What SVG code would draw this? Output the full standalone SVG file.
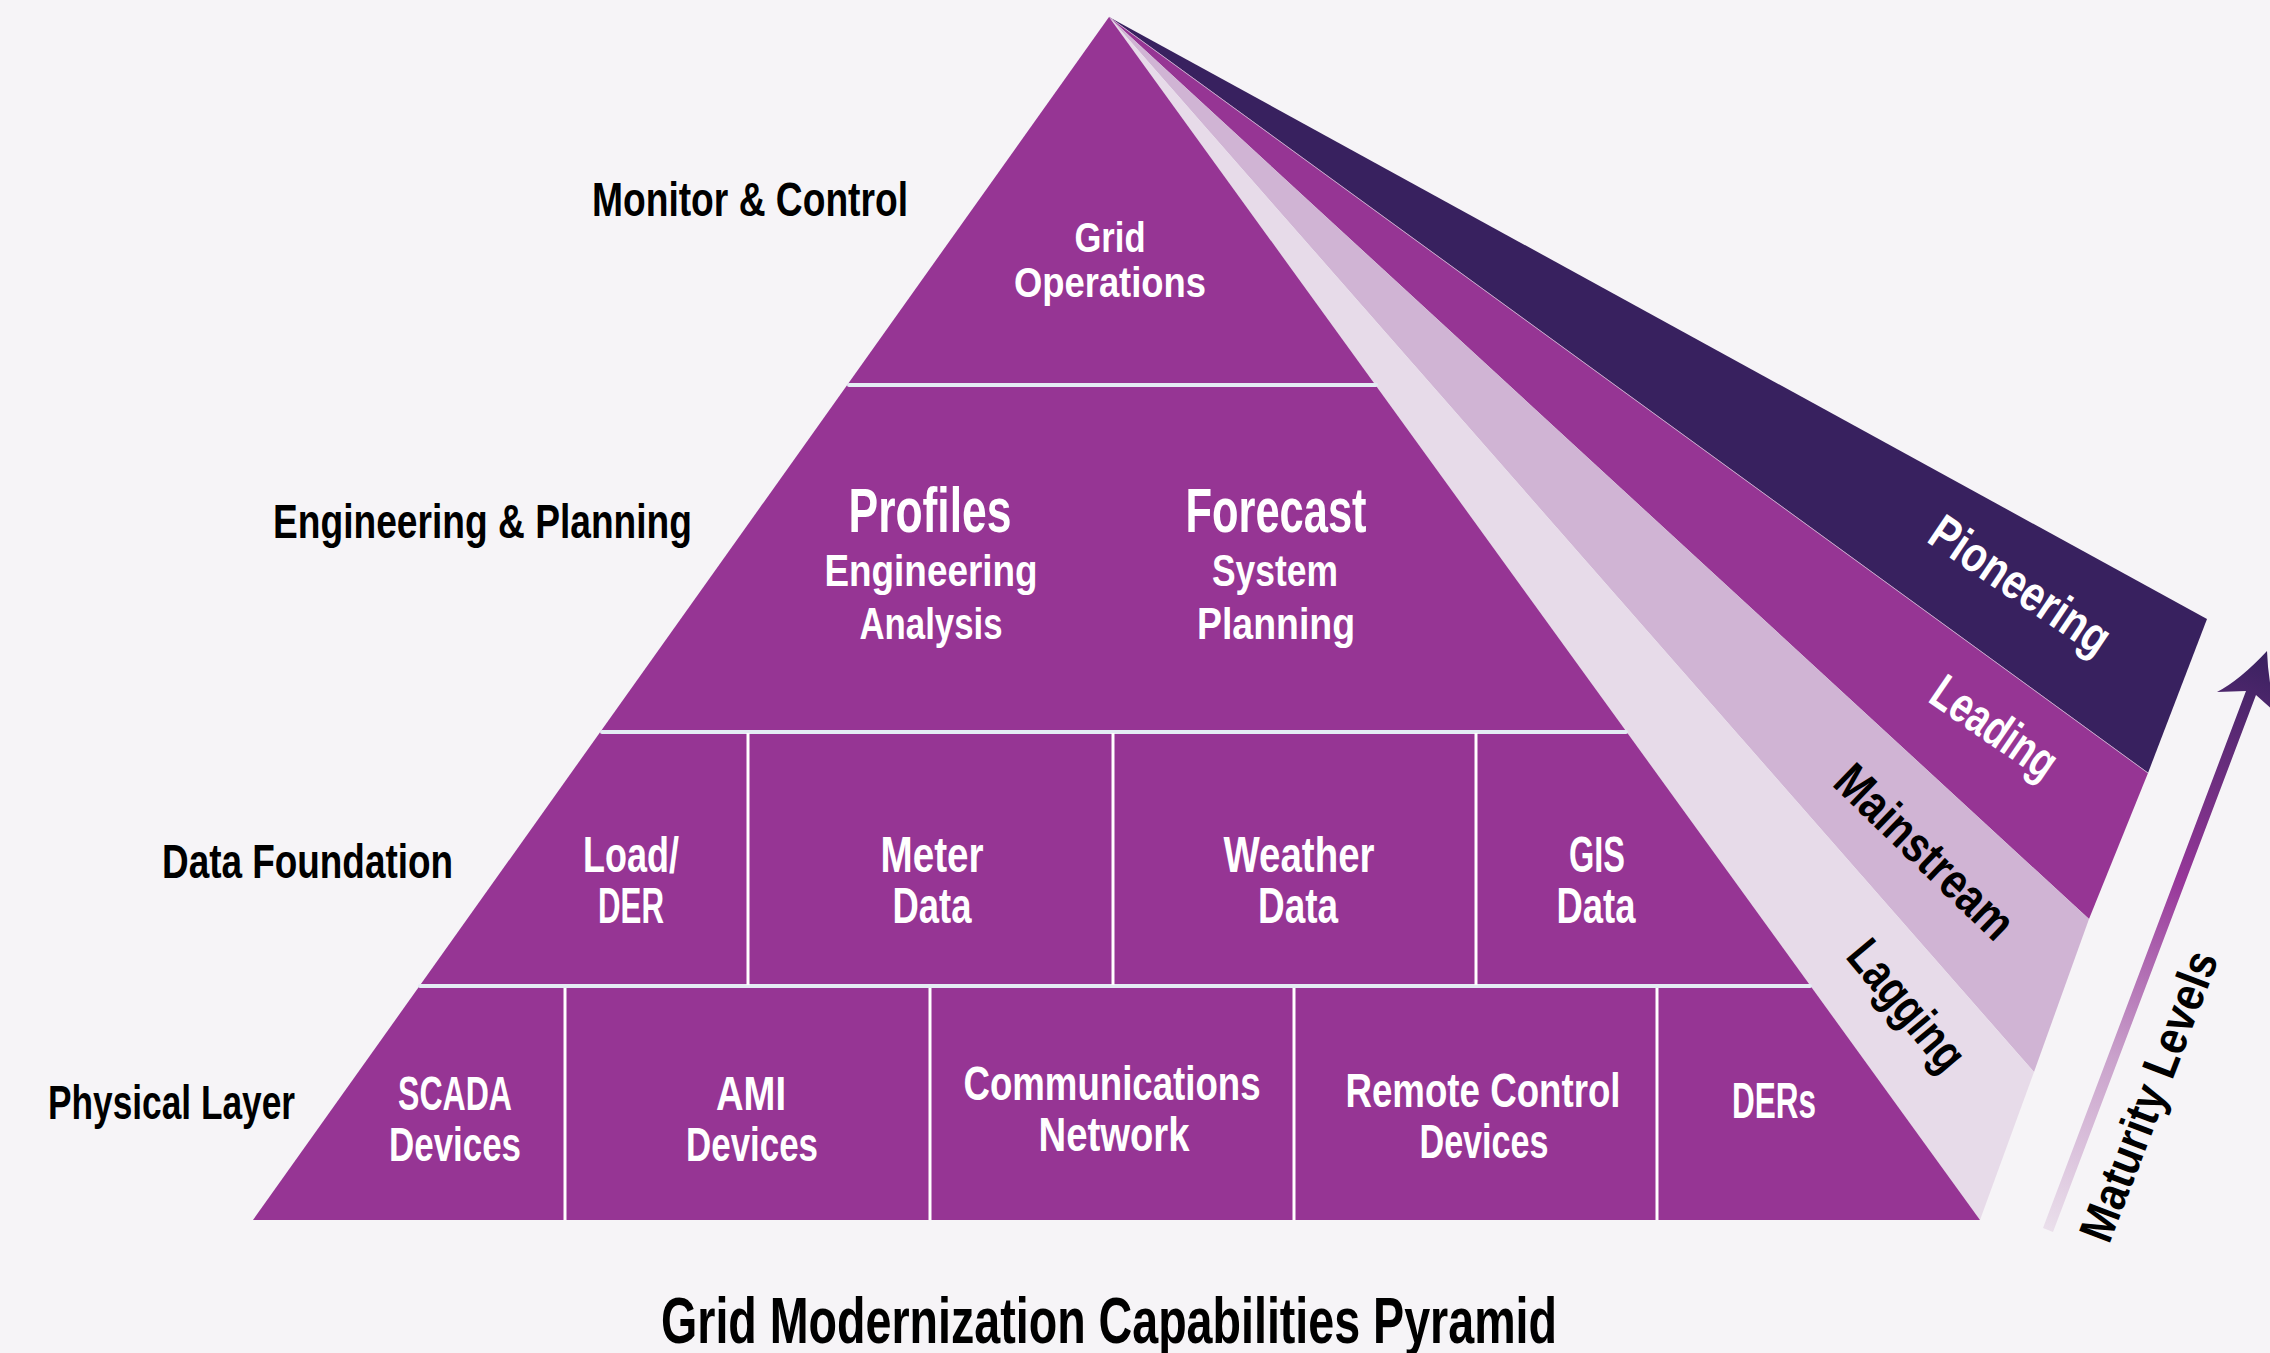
<svg xmlns="http://www.w3.org/2000/svg" width="2270" height="1353" viewBox="0 0 2270 1353">
<defs>
<style>
.t{font-family:"Liberation Sans Narrow","Liberation Sans",Arial,sans-serif;font-weight:bold;}
.w{fill:#ffffff;text-anchor:middle;}
.k{fill:#000000;}
.km{fill:#000000;text-anchor:middle;}
.hl{stroke:#e4ecf4;stroke-width:4;stroke-linecap:round;}
.vl{stroke:#ffffff;stroke-width:3;}
</style>
<linearGradient id="arrowGrad" gradientUnits="userSpaceOnUse" x1="2048" y1="1230" x2="2267" y2="651">
<stop offset="0" stop-color="#eadfeb"/>
<stop offset="0.3" stop-color="#c9a1cb"/>
<stop offset="0.6" stop-color="#98389a"/>
<stop offset="1" stop-color="#38215f"/>
</linearGradient>
</defs>
<rect x="0" y="0" width="2270" height="1353" fill="#f6f4f7"/>

<g id="bands">
<polygon id="band-pioneering" points="1109,17 2207,619 2148,773" fill="#38215f"/>
<polygon id="band-leading" points="1109,17 2148,773 2089,919" fill="#963594"/>
<polygon id="band-mainstream" points="1109,17 2089,919 2034,1072" fill="#d0b4d4"/>
<polygon id="band-lagging" points="1109,17 2034,1072 1980,1220" fill="#e7dbe9"/>
<line x1="1109" y1="17" x2="2148" y2="773" stroke="#c8a8cc" stroke-width="1"/>
</g>

<g id="pyramid">
<polygon points="1109,17 1980,1220 253,1220" fill="#963594"/>
<line class="hl" x1="849" y1="385" x2="1376" y2="385"/>
<line class="hl" x1="602" y1="732" x2="1626" y2="732"/>
<line class="hl" x1="420" y1="986" x2="1810" y2="986"/>
<line class="vl" x1="748" y1="733" x2="748" y2="985"/>
<line class="vl" x1="1113" y1="733" x2="1113" y2="985"/>
<line class="vl" x1="1476" y1="733" x2="1476" y2="985"/>
<line class="vl" x1="565" y1="988" x2="565" y2="1220"/>
<line class="vl" x1="930" y1="988" x2="930" y2="1220"/>
<line class="vl" x1="1294" y1="988" x2="1294" y2="1220"/>
<line class="vl" x1="1657" y1="988" x2="1657" y2="1220"/>
</g>

<g id="node-grid-operations">
<text class="t w" x="1110" y="252" font-size="42" textLength="71" lengthAdjust="spacingAndGlyphs">Grid</text>
<text class="t w" x="1110" y="297" font-size="42" textLength="192" lengthAdjust="spacingAndGlyphs">Operations</text>
</g>

<g id="node-profiles">
<text class="t w" x="930" y="532" font-size="63" textLength="163" lengthAdjust="spacingAndGlyphs">Profiles</text>
<text class="t w" x="931" y="586" font-size="44" textLength="213" lengthAdjust="spacingAndGlyphs">Engineering</text>
<text class="t w" x="931" y="639" font-size="44" textLength="143" lengthAdjust="spacingAndGlyphs">Analysis</text>
</g>

<g id="node-forecast">
<text class="t w" x="1276" y="532" font-size="63" textLength="181" lengthAdjust="spacingAndGlyphs">Forecast</text>
<text class="t w" x="1275" y="586" font-size="44" textLength="126" lengthAdjust="spacingAndGlyphs">System</text>
<text class="t w" x="1276" y="639" font-size="44" textLength="158" lengthAdjust="spacingAndGlyphs">Planning</text>
</g>

<g id="node-load-der">
<text class="t w" x="631" y="872" font-size="50" textLength="96" lengthAdjust="spacingAndGlyphs">Load/</text>
<text class="t w" x="631" y="923" font-size="50" textLength="66" lengthAdjust="spacingAndGlyphs">DER</text>
</g>
<g id="node-meter-data">
<text class="t w" x="932" y="872" font-size="50" textLength="103" lengthAdjust="spacingAndGlyphs">Meter</text>
<text class="t w" x="932" y="923" font-size="50" textLength="79" lengthAdjust="spacingAndGlyphs">Data</text>
</g>
<g id="node-weather-data">
<text class="t w" x="1299" y="872" font-size="50" textLength="151" lengthAdjust="spacingAndGlyphs">Weather</text>
<text class="t w" x="1298" y="923" font-size="50" textLength="80" lengthAdjust="spacingAndGlyphs">Data</text>
</g>
<g id="node-gis-data">
<text class="t w" x="1597" y="872" font-size="50" textLength="56" lengthAdjust="spacingAndGlyphs">GIS</text>
<text class="t w" x="1596" y="923" font-size="50" textLength="79" lengthAdjust="spacingAndGlyphs">Data</text>
</g>

<g id="node-scada">
<text class="t w" x="455" y="1110" font-size="49" textLength="114" lengthAdjust="spacingAndGlyphs">SCADA</text>
<text class="t w" x="455" y="1161" font-size="49" textLength="132" lengthAdjust="spacingAndGlyphs">Devices</text>
</g>
<g id="node-ami">
<text class="t w" x="751" y="1110" font-size="49" textLength="70" lengthAdjust="spacingAndGlyphs">AMI</text>
<text class="t w" x="752" y="1161" font-size="49" textLength="132" lengthAdjust="spacingAndGlyphs">Devices</text>
</g>
<g id="node-communications">
<text class="t w" x="1112" y="1100" font-size="48" textLength="297" lengthAdjust="spacingAndGlyphs">Communications</text>
<text class="t w" x="1114" y="1151" font-size="48" textLength="151" lengthAdjust="spacingAndGlyphs">Network</text>
</g>
<g id="node-remote-control">
<text class="t w" x="1483" y="1107" font-size="48" textLength="275" lengthAdjust="spacingAndGlyphs">Remote Control</text>
<text class="t w" x="1484" y="1158" font-size="48" textLength="129" lengthAdjust="spacingAndGlyphs">Devices</text>
</g>
<g id="node-ders">
<text class="t w" x="1774" y="1118" font-size="50" textLength="84" lengthAdjust="spacingAndGlyphs">DERs</text>
</g>

<g id="layer-labels">
<text class="t k" x="592" y="216" font-size="49" textLength="316" lengthAdjust="spacingAndGlyphs">Monitor &amp; Control</text>
<text class="t k" x="273" y="538" font-size="49" textLength="419" lengthAdjust="spacingAndGlyphs">Engineering &amp; Planning</text>
<text class="t k" x="162" y="878" font-size="49" textLength="291" lengthAdjust="spacingAndGlyphs">Data Foundation</text>
<text class="t k" x="48" y="1119" font-size="49" textLength="247" lengthAdjust="spacingAndGlyphs">Physical Layer</text>
</g>

<g id="band-labels">
<text class="t w" transform="translate(2011,599) rotate(34)" font-size="50" textLength="207" lengthAdjust="spacingAndGlyphs">Pioneering</text>
<text class="t w" transform="translate(1985,741) rotate(34.5)" font-size="50" textLength="142" lengthAdjust="spacingAndGlyphs">Leading</text>
<text class="t km" transform="translate(1913,864) rotate(44)" font-size="50" textLength="228" lengthAdjust="spacingAndGlyphs">Mainstream</text>
<text class="t km" transform="translate(1894,1016) rotate(50)" font-size="50" textLength="154" lengthAdjust="spacingAndGlyphs">Lagging</text>
</g>

<g id="connectors">
<path id="maturity-arrow" d="M2267,651 Q2240,680 2217,692 L2246,691 L2043,1228 L2053,1232 L2256,695 L2276,713 Q2268,680 2267,651 Z" fill="url(#arrowGrad)"/>
</g>

<g id="maturity-label">
<text class="t km" transform="translate(2164,1102) rotate(-69)" font-size="48" textLength="307" lengthAdjust="spacingAndGlyphs">Maturity Levels</text>
</g>

<g id="title">
<text class="t km" x="1109" y="1343" font-size="64" textLength="896" lengthAdjust="spacingAndGlyphs">Grid Modernization Capabilities Pyramid</text>
</g>
</svg>
